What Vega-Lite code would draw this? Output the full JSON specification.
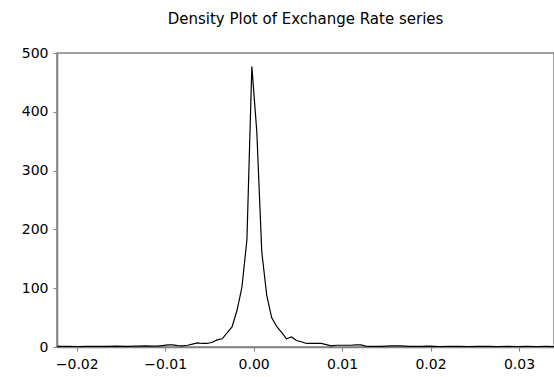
{
  "$schema": "https://vega.github.io/schema/vega-lite/v6.json",
  "autosize": {"type": "none"},
  "width": 497,
  "height": 294,
  "padding": {"left": 57, "top": 53, "right": 0, "bottom": 30},
  "title": {"text": "Density Plot of Exchange Rate series", "fontSize": 15, "fontWeight": "normal", "font": "DejaVu Sans", "color": "#000000", "anchor": "middle", "offset": 19},
  "config": {
    "view": {"stroke": "#808080", "strokeWidth": 1.5},
    "axis": {"grid": false, "domainColor": "#808080", "domainWidth": 1.5, "tickColor": "#808080", "labelColor": "#000000", "labelFont": "DejaVu Sans", "labelFontSize": 14, "title": null, "tickSize": 4}
  },
  "data": {"values": [
    {"x": -0.0222, "y": 1.0},
    {"x": -0.0210, "y": 1.2},
    {"x": -0.0199, "y": 0.8},
    {"x": -0.0188, "y": 1.0},
    {"x": -0.0177, "y": 1.3},
    {"x": -0.0166, "y": 1.0},
    {"x": -0.0155, "y": 1.4},
    {"x": -0.0144, "y": 1.2},
    {"x": -0.0133, "y": 1.5},
    {"x": -0.0122, "y": 1.8},
    {"x": -0.0114, "y": 1.5},
    {"x": -0.01084, "y": 1.5},
    {"x": -0.01028, "y": 2.5},
    {"x": -0.00972, "y": 3.5},
    {"x": -0.00916, "y": 3.5},
    {"x": -0.0086, "y": 2.5},
    {"x": -0.00804, "y": 2.0},
    {"x": -0.00748, "y": 3.0},
    {"x": -0.00692, "y": 5.0},
    {"x": -0.00636, "y": 7.0},
    {"x": -0.0058, "y": 6.0},
    {"x": -0.00524, "y": 6.0},
    {"x": -0.00468, "y": 8.0},
    {"x": -0.00412, "y": 12.0},
    {"x": -0.00356, "y": 14.0},
    {"x": -0.003, "y": 24.0},
    {"x": -0.00244, "y": 34.0},
    {"x": -0.00188, "y": 62.0},
    {"x": -0.00132, "y": 102.0},
    {"x": -0.00076, "y": 182.0},
    {"x": -0.0002, "y": 477.0},
    {"x": 0.00036, "y": 366.0},
    {"x": 0.00092, "y": 162.0},
    {"x": 0.00148, "y": 88.0},
    {"x": 0.00204, "y": 50.0},
    {"x": 0.0026, "y": 35.0},
    {"x": 0.00316, "y": 25.0},
    {"x": 0.00372, "y": 14.0},
    {"x": 0.00428, "y": 17.0},
    {"x": 0.00484, "y": 11.0},
    {"x": 0.0054, "y": 9.0},
    {"x": 0.00596, "y": 6.0},
    {"x": 0.00652, "y": 6.0},
    {"x": 0.00708, "y": 6.0},
    {"x": 0.00764, "y": 6.0},
    {"x": 0.0082, "y": 4.0},
    {"x": 0.00876, "y": 2.0},
    {"x": 0.00932, "y": 3.0},
    {"x": 0.00988, "y": 3.0},
    {"x": 0.01044, "y": 3.0},
    {"x": 0.011, "y": 3.0},
    {"x": 0.01156, "y": 3.5},
    {"x": 0.01212, "y": 3.5},
    {"x": 0.01268, "y": 1.5},
    {"x": 0.01324, "y": 1.2},
    {"x": 0.0144, "y": 1.0},
    {"x": 0.0155, "y": 1.8},
    {"x": 0.0166, "y": 2.0},
    {"x": 0.0177, "y": 1.2},
    {"x": 0.0188, "y": 1.0},
    {"x": 0.0199, "y": 1.5},
    {"x": 0.0210, "y": 0.8},
    {"x": 0.0221, "y": 1.2},
    {"x": 0.0232, "y": 1.0},
    {"x": 0.0243, "y": 0.8},
    {"x": 0.0254, "y": 1.2},
    {"x": 0.0265, "y": 1.0},
    {"x": 0.0276, "y": 0.8},
    {"x": 0.0287, "y": 1.0},
    {"x": 0.0298, "y": 0.8},
    {"x": 0.0309, "y": 1.0},
    {"x": 0.0320, "y": 0.8},
    {"x": 0.0331, "y": 1.0},
    {"x": 0.0342, "y": 0.8}
  ]},
  "mark": {"type": "line", "color": "#000000", "strokeWidth": 1.2, "clip": true},
  "encoding": {
    "x": {"field": "x", "type": "quantitative", "scale": {"domain": [-0.02223, 0.03396], "nice": false, "zero": false},
      "axis": {"values": [-0.02, -0.01, 0, 0.01, 0.02, 0.03], "format": ".2f", "labelPadding": 6}},
    "y": {"field": "y", "type": "quantitative", "scale": {"domain": [0, 500], "nice": false},
      "axis": {"values": [0, 100, 200, 300, 400, 500], "labelPadding": 5}}
  }
}
